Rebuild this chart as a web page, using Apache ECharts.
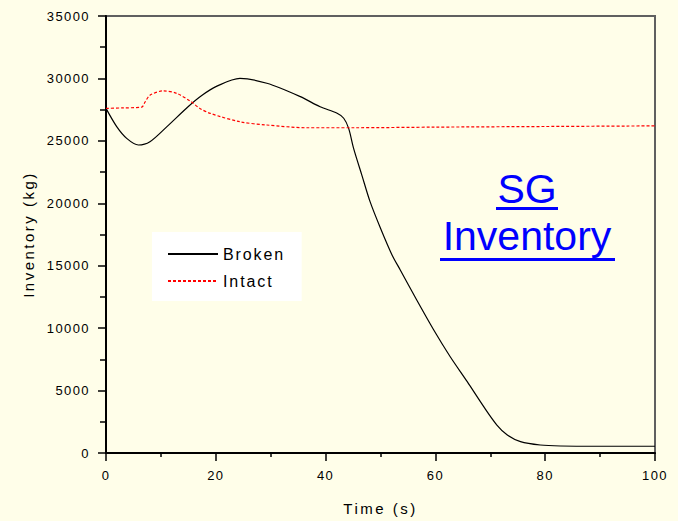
<!DOCTYPE html>
<html>
<head>
<meta charset="utf-8">
<script src="https://cdn.jsdelivr.net/npm/echarts@6/dist/echarts.min.js"></script>
<style>
html,body{margin:0;padding:0;background:#fffee9;}
#main{width:678px;height:521px;}
</style>
</head>
<body>
<div id="main"></div>
<script>
// ---- data ----
const brokenT = [0, 1.95, 3.77, 5.9, 8.0, 11.1, 15.0, 17.5, 20.2, 24.4, 29.3, 35.4, 39.0, 42.1, 43.3, 44.2, 45.1, 46.6, 48.1, 50.0, 52.1, 53.6, 56.6, 59.7, 62.7, 65.8, 68.8, 71.2, 73.1, 75.5, 79.1, 82.8, 90, 100];
const brokenV = [27600, 26140, 25200, 24670, 24930, 26140, 27750, 28650, 29380, 30000, 29610, 28540, 27730, 27210, 26810, 26000, 24400, 22260, 20130, 18000, 15860, 14660, 12250, 9850, 7710, 5710, 3710, 2240, 1440, 910, 640, 560, 540, 540];
const intactT = [0, 3.0, 6.5, 7.1, 8.0, 10.4, 12.9, 15.5, 17.1, 19.0, 24.4, 29.3, 36.6, 45, 60, 80, 100];
const intactV = [27600, 27640, 27700, 28100, 28650, 29000, 28800, 28130, 27600, 27200, 26530, 26270, 26050, 26050, 26100, 26150, 26200];
const xTicks = [0, 20, 40, 60, 80, 100];
const yTicks = [0, 5000, 10000, 15000, 20000, 25000, 30000, 35000];
const seriesNames = ['Broken', 'Intact'];
const titleLines = ['SG', 'Inventory'];
const xName = 'Time (s)';
const yName = 'Inventory (kg)';

const pair = (t, v) => t.map((x, i) => [x, v[i]]);
const FONT = '"Liberation Sans", Arial, sans-serif';

const chart = echarts.init(document.getElementById('main'), null, {renderer: 'svg'});
const option = {
  animation: false,
  backgroundColor: '#fffee9',
  grid: {left: 106, right: 23, top: 16, bottom: 68, show: true, borderColor: '#606060', borderWidth: 2,
         backgroundColor: 'transparent', outerBoundsMode: 'none', containLabel: false},
  xAxis: {
    type: 'value', min: xTicks[0], max: xTicks[xTicks.length - 1], interval: 20,
    name: xName, nameLocation: 'middle', nameGap: 48,
    nameTextStyle: {fontSize: 15, color: '#000', fontFamily: FONT},
    axisLine: {show: true, onZero: false, lineStyle: {color: '#000', width: 2}},
    axisTick: {show: true, inside: false, length: 8, lineStyle: {color: '#000', width: 1.5}},
    minorTick: {show: true, splitNumber: 2, length: 4, lineStyle: {color: '#000', width: 1.5}},
    axisLabel: {fontSize: 13, color: '#000', fontFamily: FONT, margin: 16},
    splitLine: {show: false}
  },
  yAxis: {
    type: 'value', min: yTicks[0], max: yTicks[yTicks.length - 1], interval: 5000,
    name: yName, nameLocation: 'middle', nameGap: 70, nameRotate: 90,
    nameTextStyle: {fontSize: 15, color: '#000', fontFamily: FONT},
    axisLine: {show: true, onZero: false, lineStyle: {color: '#000', width: 2}},
    axisTick: {show: true, inside: false, length: 8, lineStyle: {color: '#000', width: 1.5}},
    minorTick: {show: true, splitNumber: 2, length: 6, lineStyle: {color: '#000', width: 1.5}},
    axisLabel: {fontSize: 13, color: '#000', fontFamily: FONT, margin: 16, formatter: v => String(v)},
    splitLine: {show: false}
  },
  legend: {
    orient: 'vertical', left: 152, top: 232,
    padding: [14, 28, 12, 15], itemGap: 11, itemWidth: 50, itemHeight: 14,
    backgroundColor: '#ffffff',
    itemStyle: {color: 'transparent', borderColor: 'transparent', borderWidth: 0},
    textStyle: {fontSize: 16, color: '#000', fontFamily: FONT},
    data: seriesNames
  },
  series: [
    {name: seriesNames[0], type: 'line', data: pair(brokenT, brokenV), symbol: 'none', smooth: 0.3,
     lineStyle: {color: '#000', width: 1.2}, itemStyle: {color: '#000'}},
    {name: seriesNames[1], type: 'line', data: pair(intactT, intactV), symbol: 'none', smooth: 0.3,
     lineStyle: {color: '#ff0000', width: 1.2, type: [3, 2]}, itemStyle: {color: '#ff0000'}}
  ],
  graphic: [
    {type: 'text', x: 527, y: 189, style: {text: titleLines[0], font: '41px ' + FONT, fill: '#0000ff', textAlign: 'center', textVerticalAlign: 'middle', verticalAlign: 'middle'}},
    {type: 'text', x: 527, y: 236, style: {text: titleLines[1], font: '41px ' + FONT, fill: '#0000ff', textAlign: 'center', textVerticalAlign: 'middle', verticalAlign: 'middle'}},
    {type: 'rect', shape: {x: 496, y: 207, width: 62, height: 3}, style: {fill: '#0000ff'}},
    {type: 'rect', shape: {x: 440, y: 258, width: 175, height: 3}, style: {fill: '#0000ff'}}
  ]
};
chart.setOption(option);

function spaceText() {
  document.querySelectorAll('#main svg text').forEach(el => {
    const fs = parseFloat(getComputedStyle(el).fontSize);
    let ls = 0;
    if (fs >= 12.5 && fs < 14) ls = 1.4;
    else if (fs >= 14.5 && fs < 15.5) ls = 2.5;
    else if (fs >= 15.5 && fs < 17) ls = 1.9;
    el.style.letterSpacing = ls + 'px';
  });
}
spaceText();
chart.on('finished', spaceText);
setTimeout(spaceText, 0);
setTimeout(spaceText, 50);
</script>
</body>
</html>
